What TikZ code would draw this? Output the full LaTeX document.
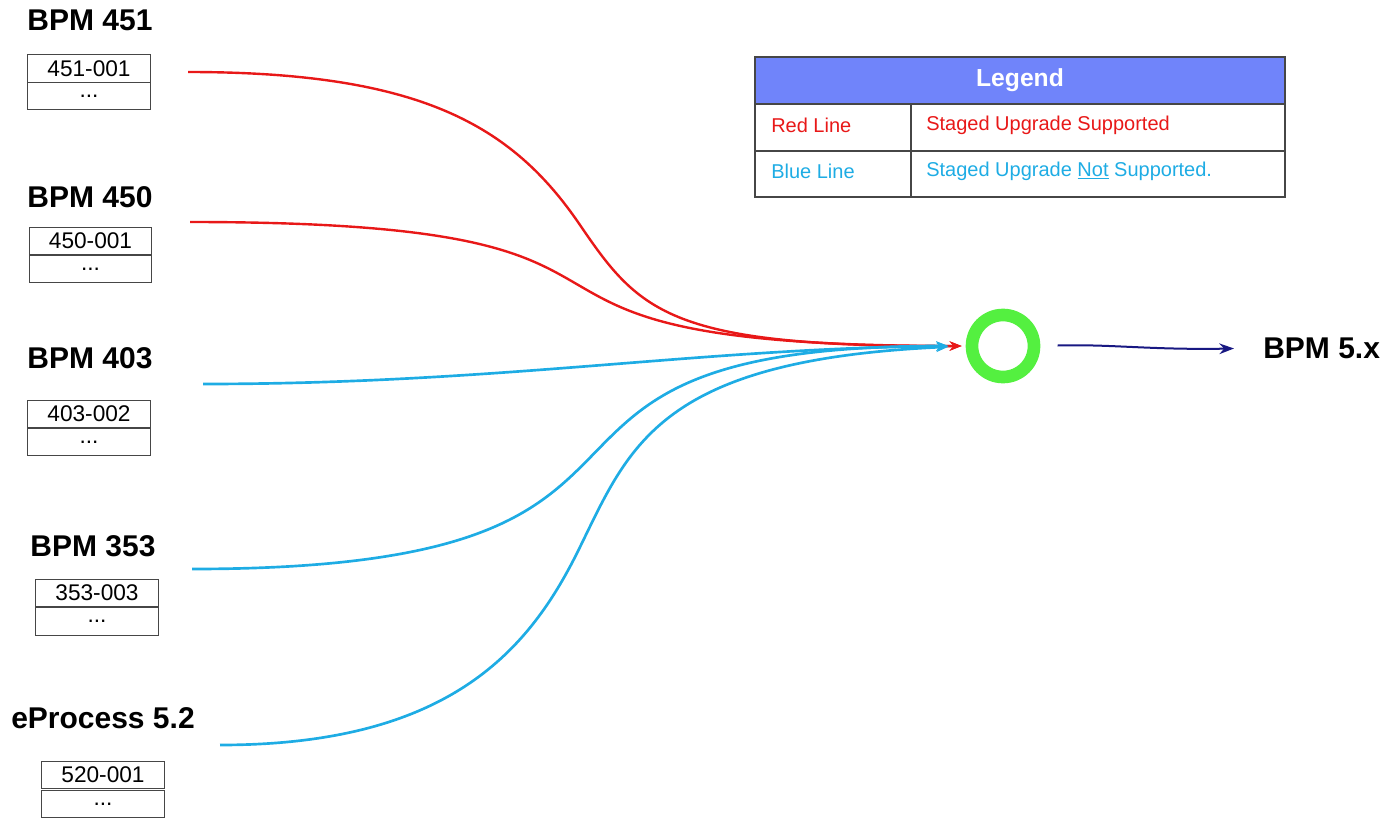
\documentclass[tikz,border=0pt]{standalone}
\usepackage{fontspec}
\setmainfont{Liberation Sans}
\usetikzlibrary{arrows.meta}
\definecolor{upred}{RGB}{232,24,24}
\definecolor{upblue}{RGB}{30,172,228}
\definecolor{upnavy}{RGB}{24,24,130}
\definecolor{hubgreen}{RGB}{84,240,64}
\definecolor{legendhead}{RGB}{112,132,250}
\definecolor{cellgray}{RGB}{70,70,70}
\begin{document}
\begin{tikzpicture}[x=0.75pt,y=0.75pt,yscale=-1,xscale=1,
  title/.style={font=\fontsize{22.5}{27}\selectfont\bfseries,inner sep=0.75pt},
  cell/.style={draw=cellgray,line width=0.8pt,minimum width=92pt,minimum height=20.8pt,inner sep=0pt,font=\fontsize{17}{20}\selectfont},
  legtext/.style={anchor=west,inner sep=0.75pt,font=\fontsize{15}{18}\selectfont},
  redline/.style={draw=upred,line width=1.8pt,-{Stealth[length=9pt,width=7pt]},shorten >=3pt},
  blueline/.style={draw=upblue,line width=2pt,-{Stealth[length=9pt,width=7pt]},shorten >=13pt}]
\clip (0,0) rectangle (1387,817);
% Hub
\node (hub) [circle,draw=hubgreen,line width=9.5pt,minimum size=46.5pt,inner sep=0pt] at (1003,346) {};
% Text Node
\node (out) [title,anchor=west] at (1262,348) {BPM 5.x};
%Straight Lines
\draw [upnavy,line width=1.5pt,-{Stealth[length=11pt,width=8pt]},shorten <=13pt,shorten >=21pt] (hub.east) .. controls (1110,344) and (1150,350) .. (out.west);
% Text Node
\node (t451) [title] at (90,20) {BPM 451};
\node (c451) [cell] at (89,68.5) {451-001};
\node (d451) [cell] at (89,96) {...};
\node (t450) [title] at (90,197) {BPM 450};
\node (c450) [cell] at (90.5,241) {450-001};
\node (d450) [cell] at (90.5,269) {...};
\node (t403) [title] at (90,358) {BPM 403};
\node (c403) [cell] at (89,414) {403-002};
\node (d403) [cell] at (89,442) {...};
\node (t353) [title] at (93,546) {BPM 353};
\node (c353) [cell] at (97,593) {353-003};
\node (d353) [cell] at (97,621.5) {...};
\node (t520) [title] at (103,718) {eProcess 5.2};
\node (c520) [cell] at (103,775) {520-001};
\node (d520) [cell] at (103,804) {...};
%Curve Lines
\coordinate (s451) at (188,72);
\coordinate (s450) at (190,222);
\coordinate (s403) at (203,384);
\coordinate (s353) at (192,569);
\coordinate (s520) at (220,745);
\draw [redline] (s451) .. controls (420,72) and (512,125) .. (580,225) .. controls (640,313) and (670,347) .. (hub.west);
\draw [redline] (s450) .. controls (747,222) and (409,346) .. (hub.west);
\draw [blueline] (s403) .. controls (500,384) and (700,348) .. (hub.west);
\draw [blueline] (s353) .. controls (754,569) and (442,346) .. (hub.west);
\draw [blueline] (s520) .. controls (450,745) and (530,650) .. (580,547) .. controls (630,445) and (660,360) .. (hub.west);
% Legend
\draw [draw=cellgray,fill=legendhead,line width=0.8pt] (755,57) rectangle (1285,104);
\draw [draw=cellgray,line width=0.8pt] (755,104) rectangle (1285,197);
\draw [draw=cellgray,line width=0.8pt] (755,151) -- (1285,151);
\draw [draw=cellgray,line width=0.8pt] (911,104) -- (911,197);
\node (leg) [font=\fontsize{18.5}{22}\selectfont\bfseries,text=white] at (1020,80) {Legend};
\node (lred) [legtext,text=upred] at (770,125) {Red Line};
\node (lredd) [legtext,text=upred] at (925,125) {Staged Upgrade Supported};
\node (lblue) [legtext,text=upblue] at (770,171) {Blue Line};
\node (lblued) [legtext,text=upblue] at (925,171) {Staged Upgrade \underline{Not} Supported.};
\end{tikzpicture}
\end{document}
